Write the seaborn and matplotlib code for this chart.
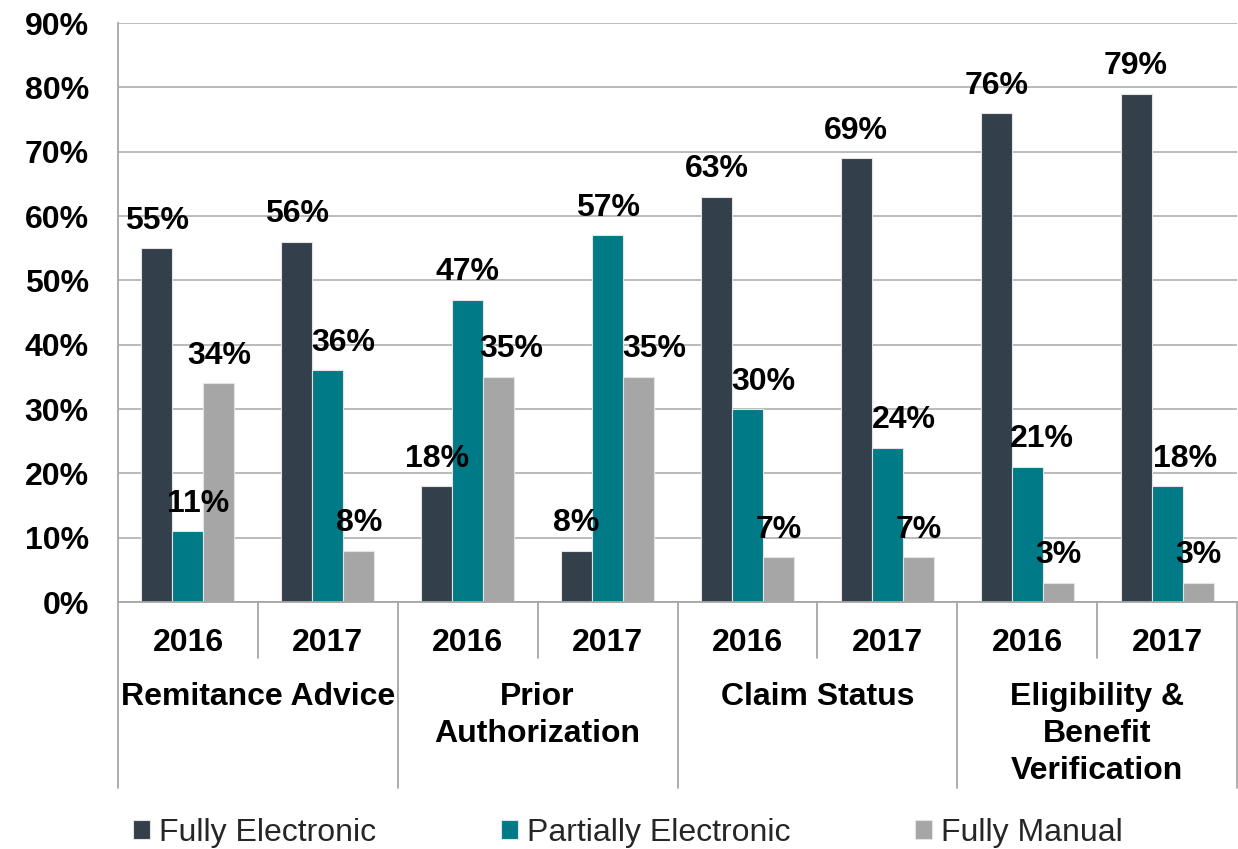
import matplotlib
matplotlib.use("Agg")
import matplotlib.pyplot as plt
import matplotlib.transforms as mtransforms
import seaborn as sns
import pandas as pd

# Transaction categories and survey years
categories = ["Remitance Advice", "Prior\nAuthorization", "Claim Status",
              "Eligibility &\nBenefit\nVerification"]
years = ["2016", "2017"]
series = ["Fully Electronic", "Partially Electronic", "Fully Manual"]

# Share of transactions (%) per category/year, in the order of `categories` x `years`
fully_electronic = [55, 56, 18, 8, 63, 69, 76, 79]
partially_electronic = [11, 36, 47, 57, 30, 24, 21, 18]
fully_manual = [34, 8, 35, 35, 7, 7, 3, 3]

y_ticks = [0, 10, 20, 30, 40, 50, 60, 70, 80, 90]

colors = ["#333F4A", "#007A87", "#A6A6A6"]

# Long-format table for seaborn
slots = [f"{c}|{y}" for c in categories for y in years]
rows = []
for name, vals in zip(series, [fully_electronic, partially_electronic, fully_manual]):
    for slot, v in zip(slots, vals):
        rows.append({"slot": slot, "series": name, "value": v})
df = pd.DataFrame(rows)

sns.set_theme(style="white")
plt.rcParams["font.family"] = ["Liberation Sans", "DejaVu Sans"]

FS = 23
fig = plt.figure(figsize=(12.38, 8.49), dpi=100)
W, H = 1238, 849
ax = fig.add_axes([118 / W, 1 - 602 / H, (1237 - 118) / W, (602 - 23) / H])

sns.barplot(data=df, x="slot", y="value", hue="series", order=slots,
            hue_order=series, palette=colors, width=0.665, ax=ax,
            edgecolor="#E4E4E4", linewidth=0.8, saturation=1, errorbar=None)

handles, labels = ax.get_legend_handles_labels()
if ax.get_legend() is not None:
    ax.get_legend().remove()

ax.set_xlim(-0.5, len(slots) - 0.5)
ax.set_ylim(0, 90)
ax.set_yticks(y_ticks)
ax.set_yticklabels([f"{t}%" for t in y_ticks], fontsize=FS, fontweight="bold", color="black")
ax.set_xticks(range(len(slots)))
ax.set_xticklabels([y for _ in categories for y in years], fontsize=FS,
                   fontweight="bold", color="black")
ax.tick_params(axis="x", length=0, pad=19)
ax.tick_params(axis="y", length=7, width=1.2, color="#A6A6A6", pad=14, direction="out")
ax.set_xlabel("")
ax.set_ylabel("")

ax.yaxis.grid(True, color="#B5B5B5", linewidth=1.3)
ax.xaxis.grid(False)
ax.set_axisbelow(True)
for side in ["top", "right"]:
    ax.spines[side].set_visible(False)
for side in ["left", "bottom"]:
    ax.spines[side].set_color("#A6A6A6")
    ax.spines[side].set_linewidth(1.3)

# Value labels above each bar; a few are nudged right to avoid crowding
nudge_px = {(1, 0): 10, (1, 1): 15, (1, 4): 16, (1, 5): 17, (1, 6): 15, (1, 7): 18,
            (2, 2): 13, (2, 3): 16}
px = 72 / 100
for si, (cont, vals) in enumerate(zip(ax.containers,
                                      [fully_electronic, partially_electronic, fully_manual])):
    for gi, (bar, v) in enumerate(zip(cont, vals)):
        xc = bar.get_x() + bar.get_width() / 2
        dx = nudge_px.get((si, gi), 0) * px
        ax.annotate(f"{v}%", xy=(xc, v), xytext=(dx, 14), textcoords="offset points",
                    ha="center", va="baseline", fontsize=FS, fontweight="bold",
                    color="black", annotation_clip=False)

# Two-level category axis: separators and group names
blend = mtransforms.blended_transform_factory(ax.transData, ax.transAxes)
axh = 602 - 23
short_y = -(658 - 602) / axh
long_y = -(788 - 602) / axh
for k in range(len(slots) + 1):
    x = k - 0.5
    y_end = long_y if k % 2 == 0 else short_y
    ax.plot([x, x], [0, y_end], transform=blend, clip_on=False,
            color="#A6A6A6", linewidth=1.3)

for ci, cat in enumerate(categories):
    ax.text(2 * ci + 0.5, -(682 - 602) / axh, cat, transform=blend, ha="center",
            va="top", fontsize=FS, fontweight="bold", color="black",
            linespacing=1.3, multialignment="center")

fig.legend(handles, labels, loc="center", bbox_to_anchor=(628 / W, 1 - 833 / H),
           ncol=3, frameon=False, fontsize=FS, handlelength=0.53, handleheight=0.53,
           handletextpad=0.28, columnspacing=3.9, borderaxespad=0, borderpad=0)

fig.savefig("out.png", dpi=100)
